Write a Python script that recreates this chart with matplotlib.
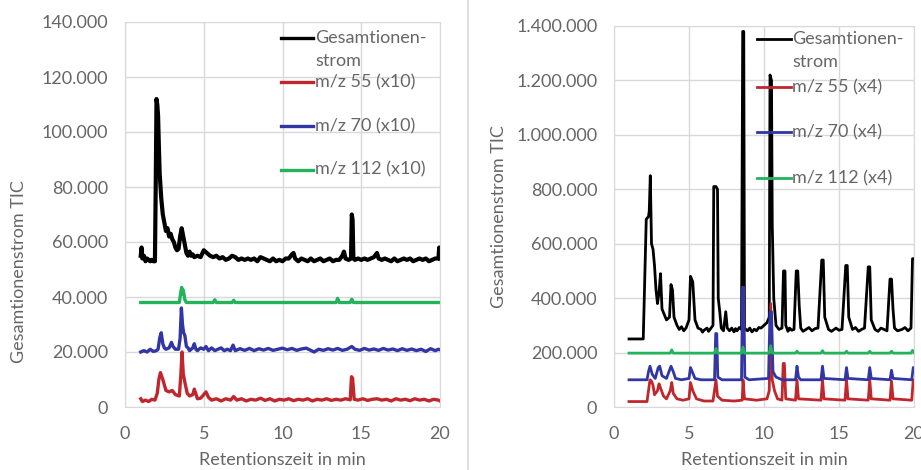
import matplotlib.pyplot as plt
from matplotlib.lines import Line2D
from matplotlib.ticker import FuncFormatter, MultipleLocator

# all intensities in thousands (k counts), time in min

# ---- left panel (x10 traces) ----
left_tic_t = [1.0, 1.05, 1.1, 1.2, 1.3, 1.4, 1.5, 1.6, 1.7, 1.8, 1.9, 1.95, 2.0, 2.05, 2.1,
              2.15, 2.2, 2.3, 2.4, 2.5, 2.6, 2.7, 2.8, 2.9, 3.0, 3.1, 3.2, 3.3, 3.4, 3.5,
              3.6, 3.7, 3.8, 3.9, 4.0, 4.1, 4.2, 4.3, 4.4, 4.6, 4.8, 5.0, 5.2, 5.4, 5.6,
              5.8, 6.0, 6.2, 6.4, 6.6, 6.8, 7.0, 7.2, 7.4, 7.6, 7.8, 8.0, 8.2, 8.4, 8.6,
              8.8, 9.0, 9.2, 9.4, 9.6, 9.8, 10.0, 10.2, 10.4, 10.6, 10.7, 10.8, 11.0, 11.2,
              11.4, 11.6, 11.8, 12.0, 12.2, 12.4, 12.6, 12.8, 13.0, 13.2, 13.4, 13.6, 13.8,
              13.9, 14.0, 14.2, 14.35, 14.4, 14.45, 14.5, 14.6, 14.8, 15.0, 15.2, 15.4,
              15.6, 15.8, 16.0, 16.1, 16.3, 16.5, 16.7, 16.9, 17.1, 17.3, 17.5, 17.7, 17.9,
              18.1, 18.3, 18.5, 18.7, 18.9, 19.1, 19.3, 19.5, 19.7, 19.9, 19.95, 20.0]
left_tic_y = [55, 58, 54, 55, 53, 54, 53.5, 53, 53.5, 53, 53, 80, 112, 110, 106,
              95, 85, 76, 70, 67, 64, 65, 62, 63, 61, 60, 58, 57, 57.5, 62,
              65, 62, 59, 56, 55, 56.5, 55, 55.5, 54.5, 55, 54.5, 57, 56, 55, 54.5,
              55, 54, 54.5, 53.5, 54, 55, 54.5, 53.5, 54, 53.5, 54, 53.5, 54, 53, 54.5,
              54, 53.5, 53, 54, 53, 53.5, 53, 54, 54, 55.5, 56, 54, 53, 54,
              53.5, 53, 54, 53, 53.5, 54, 53, 53.5, 54, 53, 53.5, 53.5, 55,
              56.5, 54, 53.5, 54, 70, 68, 54, 53.5, 54, 53.5, 54, 53.5,
              54, 54.5, 56, 54, 53.5, 54, 53.5, 53, 54, 53, 53.5, 54, 53.5,
              54, 53, 53.5, 54, 53.5, 54, 53, 53.5, 54, 54, 58, 54]

left_mz55_t = [1.0, 1.1, 1.3, 1.5, 1.7, 1.9, 2.05, 2.15, 2.25, 2.4, 2.5, 2.6, 2.8, 2.9,
               3.0, 3.2, 3.45, 3.55, 3.62, 3.7, 3.8, 3.95, 4.1, 4.3, 4.4, 4.6, 4.8, 5.0,
               5.14, 5.3, 5.5, 5.8, 6.1, 6.4, 6.7, 6.9, 7.1, 7.4, 7.7, 8.0, 8.3, 8.6,
               8.9, 9.2, 9.5, 9.8, 10.1, 10.4, 10.7, 11.0, 11.3, 11.6, 11.9, 12.2, 12.5,
               12.8, 13.1, 13.4, 13.7, 14.0, 14.3, 14.38, 14.45, 14.55, 14.8, 15.1, 15.4,
               15.7, 16.0, 16.3, 16.6, 16.9, 17.2, 17.5, 17.8, 18.1, 18.4, 18.7, 19.0,
               19.3, 19.6, 19.9, 20.0]
left_mz55_y = [3, 2, 2.5, 2, 2.8, 2.5, 5, 10, 12.5, 10, 8, 6, 5.5, 5.8,
               6, 4.5, 4, 12, 20, 12, 9, 5, 4, 4.5, 6.5, 3, 3.2, 4.5,
               5.5, 3.5, 2.5, 3, 2.2, 3, 2.5, 3.8, 2.5, 3, 2.2, 2.8, 2.5, 3.2,
               2.4, 3, 2.2, 2.8, 2.5, 3, 2.3, 2.8, 2.5, 3, 2.2, 2.8, 2.5,
               3, 2.4, 2.8, 2.5, 3, 2.6, 11, 10.5, 2.8, 2.5, 3, 2.4,
               2.8, 3, 2.5, 2.8, 2.2, 3, 2.5, 2.8, 2.3, 3, 2.5, 2.8,
               2.2, 2.8, 2.5, 2.2]

left_mz70_t = [1.0, 1.2, 1.4, 1.6, 1.8, 2.0, 2.1, 2.2, 2.3, 2.4, 2.5, 2.6, 2.8, 2.95,
               3.05, 3.2, 3.4, 3.5, 3.58, 3.65, 3.72, 3.8, 3.9, 4.0, 4.1, 4.3, 4.4, 4.5,
               4.6, 4.8, 5.0, 5.14, 5.3, 5.5, 5.7, 5.9, 6.1, 6.3, 6.5, 6.7, 6.86, 7.0,
               7.3, 7.6, 7.9, 8.2, 8.5, 8.8, 9.1, 9.4, 9.7, 10.0, 10.3, 10.6, 10.9,
               11.2, 11.5, 11.8, 12.0, 12.3, 12.6, 12.9, 13.2, 13.5, 13.8, 14.1, 14.4,
               14.6, 14.9, 15.2, 15.5, 15.8, 16.1, 16.4, 16.7, 17.0, 17.3, 17.6, 17.9,
               18.2, 18.5, 18.8, 19.1, 19.4, 19.7, 19.9, 20.0]
left_mz70_y = [20, 20.5, 20, 21, 20.2, 20.5, 21, 25, 27, 23, 21.5, 21, 21.5, 23.5,
               22, 21, 21, 25, 36, 30, 27, 26, 22, 21.5, 20.5, 21.5, 23, 21,
               20.5, 21.5, 21, 22, 20.5, 21.5, 20.5, 21, 21.5, 20.5, 21, 20.5, 22.5, 20.5,
               21.2, 20.6, 21.3, 20.5, 21.2, 20.7, 21.3, 20.6, 21, 21.4, 20.8, 21.3, 20.6,
               21.1, 21.4, 20.6, 20, 21, 20.6, 21.2, 20.7, 21.3, 20.6, 21, 22,
               21, 20.6, 21.3, 20.7, 21.1, 20.6, 21.3, 20.7, 21.1, 20.5, 21.2, 20.6,
               21.1, 20.5, 21, 20.2, 21.2, 20.5, 21, 20.8]

left_mz112_t = [1.0, 3.45, 3.55, 3.6, 3.65, 3.7, 3.8, 3.9, 5.6, 5.7, 5.8, 6.8, 6.9, 7.0,
                13.4, 13.5, 13.6, 14.3, 14.4, 14.5, 20.0]
left_mz112_y = [38, 38, 42, 43.5, 41, 42.5, 39, 38, 38, 39, 38, 38, 38.8, 38,
                38, 39.5, 38, 38, 39.2, 38, 38]

# ---- right panel (x4 traces) ----
right_tic_t = [1.0, 1.95, 2.15, 2.3, 2.35, 2.42, 2.5, 2.6, 2.7, 2.8, 2.9, 3.0, 3.1, 3.2,
               3.35, 3.5, 3.7, 3.8, 3.9, 4.0, 4.2, 4.35, 4.5, 4.65, 4.8, 5.0, 5.1, 5.25,
               5.4, 5.6, 5.8, 5.9, 6.0, 6.2, 6.3, 6.4, 6.6, 6.65, 6.8, 6.9, 6.95, 7.05,
               7.15, 7.3, 7.45, 7.55, 7.7, 7.85, 8.0, 8.1, 8.2, 8.35, 8.5, 8.58, 8.65,
               8.7, 8.9, 9.05, 9.2, 9.35, 9.5, 9.65, 9.8, 10.0, 10.2, 10.35, 10.4, 10.5,
               10.55, 10.65, 10.8, 11.0, 11.2, 11.3, 11.4, 11.45, 11.6, 11.7, 11.85,
               12.0, 12.15, 12.25, 12.35, 12.45, 12.6, 12.8, 13.0, 13.2, 13.4, 13.6,
               13.85, 13.95, 14.05, 14.3, 14.5, 14.8, 15.0, 15.2, 15.45, 15.55, 15.65,
               15.9, 16.1, 16.3, 16.5, 16.7, 16.95, 17.05, 17.15, 17.4, 17.6, 17.8,
               18.0, 18.2, 18.4, 18.5, 18.6, 18.7, 18.9, 19.2, 19.4, 19.6, 19.8, 19.9,
               20.0]
right_tic_y = [250, 250, 690, 700, 720, 850, 600, 580, 520, 430, 380, 420, 490, 360,
               340, 320, 330, 450, 430, 330, 300, 285, 295, 280, 290, 320, 480, 460,
               320, 290, 285, 275, 282, 290, 278, 285, 300, 810, 810, 800, 400, 350,
               290, 280, 350, 290, 280, 290, 276, 288, 280, 292, 285, 1380, 1380,
               290, 280, 290, 276, 286, 280, 292, 290, 300, 310, 330, 1220, 1200,
               670, 400, 300, 285, 290, 500, 500, 300, 278, 290, 282,
               285, 500, 500, 370, 290, 278, 285, 292, 280, 288, 290,
               540, 540, 330, 285, 278, 290, 282, 285, 520, 520, 330,
               285, 292, 278, 285, 290, 515, 515, 320, 285, 278, 290,
               285, 280, 470, 470, 360, 290, 280, 285, 292, 280, 290, 545,
               545]

right_mz55_t = [1.0, 2.2, 2.3, 2.4, 2.5, 2.6, 2.7, 2.9, 3.0, 3.1, 3.3, 3.5, 3.75, 3.85,
                3.95, 4.2, 4.6, 5.0, 5.1, 5.25, 5.5, 6.0, 6.6, 6.8, 6.9, 7.2, 8.0, 8.55,
                8.6, 8.7, 9.5, 10.2, 10.35, 10.45, 10.55, 10.7, 10.9, 11.2, 11.28, 11.36,
                11.45, 12.1, 12.2, 12.3, 13.8, 13.9, 14.0, 15.4, 15.5, 15.6, 16.95, 17.05,
                17.15, 18.4, 18.5, 18.6, 19.85, 19.95, 20.0]
right_mz55_y = [20, 20, 60, 100, 95, 80, 45, 60, 85, 70, 40, 30, 60, 90,
                50, 30, 25, 30, 90, 60, 30, 22, 22, 100, 40, 25, 22, 25,
                100, 30, 25, 30, 60, 380, 100, 60, 30, 25, 160, 160,
                30, 25, 100, 30, 25, 100, 30, 25, 100, 30, 25, 100,
                30, 25, 95, 30, 25, 100, 95]

right_mz70_t = [1.0, 2.2, 2.3, 2.4, 2.55, 2.75, 2.95, 3.05, 3.2, 3.5, 3.8, 3.95, 4.1, 4.5,
                5.0, 5.1, 5.25, 5.4, 5.8, 6.7, 6.78, 6.85, 6.92, 7.2, 8.5, 8.57, 8.65,
                8.72, 9.0, 10.3, 10.4, 10.5, 10.6, 10.8, 11.2, 12.1, 12.2, 12.3, 12.45,
                13.8, 13.9, 14.0, 15.4, 15.5, 15.6, 16.95, 17.05, 17.15, 18.4, 18.5, 18.6,
                19.85, 19.95, 20.0]
right_mz70_y = [100, 100, 130, 150, 120, 105, 145, 150, 115, 105, 150, 130, 105, 100,
                105, 145, 125, 105, 100, 100, 270, 270, 110, 100, 100, 440, 440,
                110, 100, 105, 350, 350, 130, 110, 100, 100, 150, 110, 100,
                100, 150, 105, 100, 145, 105, 100, 145, 105, 100, 135, 105,
                100, 145, 140]

right_mz112_t = [1.0, 3.75, 3.85, 3.95, 6.7, 6.8, 6.9, 8.5, 8.6, 8.7, 10.35, 10.45, 10.55,
                 12.1, 12.2, 12.3, 13.8, 13.9, 14.0, 15.4, 15.5, 15.6, 16.95, 17.05, 17.15,
                 18.4, 18.5, 18.6, 19.8, 19.9, 20.0]
right_mz112_y = [198, 198, 210, 198, 198, 215, 198, 198, 220, 198, 198, 225, 198,
                 198, 205, 198, 198, 207, 198, 198, 205, 198, 198, 205, 198,
                 198, 205, 198, 198, 208, 200]

left_labels = ["Gesamtionen-\nstrom", "m/z 55 (x10)", "m/z 70 (x10)", "m/z 112 (x10)"]
right_labels = ["Gesamtionen-\nstrom", "m/z 55 (x4)", "m/z 70 (x4)", "m/z 112 (x4)"]
colors = ["#000000", "#c0272d", "#3236a4", "#22b35b"]

TXT = "#666666"
GRID = "#d9d9d9"
plt.rcParams['font.family'] = ['Lato', 'DejaVu Sans']


def k(vals):
    return [v * 1000 for v in vals]


def de_fmt(v, pos):
    return "{:,}".format(int(round(v))).replace(",", ".")


def style_axes(ax, ymax, ystep):
    ax.set_xlim(0, 20)
    ax.set_ylim(0, ymax)
    ax.xaxis.set_major_locator(MultipleLocator(5))
    ax.yaxis.set_major_locator(MultipleLocator(ystep))
    ax.yaxis.set_major_formatter(FuncFormatter(de_fmt))
    ax.grid(True, color=GRID, lw=1)
    ax.set_axisbelow(True)
    for s in ax.spines.values():
        s.set_color(GRID)
    ax.tick_params(length=0, labelsize=13, labelcolor=TXT)
    ax.tick_params(axis="x", pad=14)
    ax.tick_params(axis="y", pad=12)
    ax.set_xlabel("Retentionszeit in min", fontsize=13, color=TXT)
    ax.set_ylabel("Gesamtionenstrom TIC", fontsize=13, color=TXT)


def draw_legend(ax, labels, x0, x1, ys, lw):
    for lab, c, y in zip(labels, colors, ys):
        ax.plot([x0, x1], [y, y], color=c, lw=lw, transform=ax.transAxes, clip_on=False)
        first, *rest = lab.split("\n")
        ax.text(x1 + 0.006, y, first, transform=ax.transAxes, va="center", ha="left",
                fontsize=13, color=TXT)
        if rest:
            ax.text(x1 + 0.006, y - 0.06, rest[0], transform=ax.transAxes, va="center",
                    ha="left", fontsize=13, color=TXT)


fig = plt.figure(figsize=(9.21, 4.70), dpi=100)
ax1 = fig.add_axes([125 / 921, 63 / 470, 315 / 921, 385 / 470])
ax2 = fig.add_axes([614 / 921, 63 / 470, 300 / 921, 381 / 470])

left = [(left_tic_t, left_tic_y), (left_mz55_t, left_mz55_y),
        (left_mz70_t, left_mz70_y), (left_mz112_t, left_mz112_y)]
right = [(right_tic_t, right_tic_y), (right_mz55_t, right_mz55_y),
         (right_mz70_t, right_mz70_y), (right_mz112_t, right_mz112_y)]

for i, ((t, y), c) in enumerate(zip(left, colors)):
    ax1.plot(t, k(y), color=c, lw=3.0 if i == 0 else 2.4, solid_joinstyle="round")
for i, ((t, y), c) in enumerate(zip(right, colors)):
    ax2.plot(t, k(y), color=c, lw=2.0, solid_joinstyle="round")

style_axes(ax1, 140000, 20000)
style_axes(ax2, 1400000, 200000)
ax1.yaxis.set_label_coords(-0.311, 0.353)
ax1.xaxis.set_label_coords(0.5, -0.118)
ax2.yaxis.set_label_coords(-0.357, 0.5)
ax2.xaxis.set_label_coords(0.5, -0.118)

draw_legend(ax1, left_labels, 0.495, 0.597, [0.958, 0.844, 0.730, 0.616], 2.4)
draw_legend(ax2, right_labels, 0.478, 0.589, [0.966, 0.840, 0.722, 0.601], 2.0)

# divider between the two charts
fig.add_artist(Line2D([468 / 921, 468 / 921], [0, 1], color=GRID, lw=1.2))

fig.savefig("out.png", dpi=100, facecolor="white")
